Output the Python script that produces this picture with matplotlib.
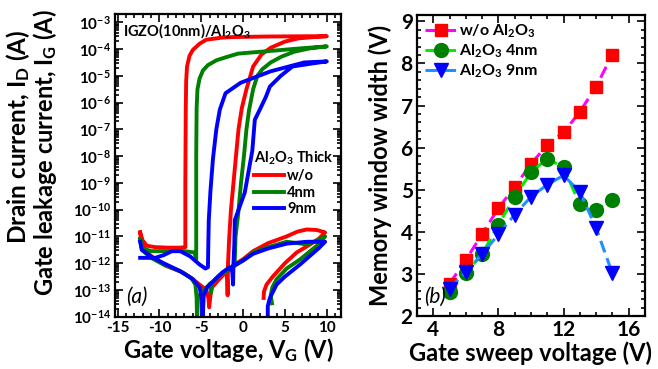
import numpy as np
import matplotlib
matplotlib.use('Agg')
from matplotlib import pyplot as plt
from matplotlib.ticker import LogLocator, MultipleLocator, NullFormatter, FuncFormatter

plt.rcParams['font.family'] = ['Lato', 'DejaVu Sans']
plt.rcParams['font.weight'] = 'bold'
plt.rcParams['axes.labelweight'] = 'bold'
plt.rcParams['mathtext.fontset'] = 'custom'
plt.rcParams['mathtext.rm'] = 'Lato:bold'
plt.rcParams['mathtext.bf'] = 'Lato:bold'
plt.rcParams['mathtext.it'] = 'Lato:bold:italic'
plt.rcParams['mathtext.default'] = 'rm'

# ---- (a) transfer curves, V_G (V) and log10 |I| (A)
red_id_v = [-12.3, -12.1, -11.5, -10.5, -9.2, -7.2, -6.0, -5.0, -4.4, -4.15, -4.05, -3.9, -3.7, -3.0, -2.4,
            -2.0, -1.9, -1.85, -1.8, -1.65, -1.45, -1.15, -0.85, -0.55, -0.15, 0.4, 1.2, 2.2, 3.3, 5.0, 6.6,
            8.5, 10.0,
            8.0, 3.0, -1.2, -2.5, -4.4, -5.2, -6.0, -6.4, -6.7, -6.8, -6.85, -6.9, -6.9, -7.5, -9.0, -10.5,
            -11.5, -12.0, -12.3]
red_id_log = [-10.85, -11.3, -11.6, -11.85, -12.1, -12.35, -12.6, -12.85, -13.0, -13.3, -13.65, -13.2, -12.9,
              -12.65, -12.45, -12.35, -12.6, -13.2, -12.0, -11.0, -10.0, -9.0, -8.0, -7.0, -6.2, -5.5, -4.65,
              -4.2, -3.95, -3.72, -3.6, -3.55, -3.52,
              -3.52, -3.53, -3.55, -3.57, -3.65, -3.8, -4.03, -4.25, -4.65, -5.2, -6.3, -9.0, -11.4, -11.42,
              -11.42, -11.4, -11.35, -11.15, -10.85]
red_ig_v = [-1.8, -1.0, 0.0, 1.2, 3.0, 5.2, 6.5, 7.6, 8.8, 9.8, 9.0, 8.0, 6.4, 5.0, 3.55, 2.8, 2.5, 2.45]
red_ig_log = [-12.3, -12.05, -11.85, -11.55, -11.25, -11.0, -10.82, -10.74, -10.76, -10.85, -11.1, -11.3,
              -11.6, -12.0, -12.5, -12.8, -13.05, -13.3]

green_id_v = [-12.3, -12.1, -11.0, -9.5, -7.5, -6.2, -5.7, -5.55, -5.5, -5.4, -5.0, -4.5, -3.9, -3.85, -3.75,
              -3.0, -2.0, -1.2, -1.0, -0.9, -0.6, -0.25, 0.1, 0.4, 0.7, 1.2, 1.7, 2.3, 3.3, 4.6, 6.1, 8.0, 10.0,
              7.0, 4.0, 1.3, -0.6, -2.0, -3.2, -4.2, -4.8, -5.2, -5.45, -5.55, -5.6, -5.6, -5.8, -7.0, -9.0,
              -11.0, -12.0, -12.3]
green_id_log = [-11.1, -11.5, -11.8, -12.05, -12.3, -12.55, -12.8, -13.3, -14.2, -13.3, -13.1, -12.95, -12.75,
                -13.1, -12.75, -12.5, -12.3, -12.15, -12.0, -11.0, -10.2, -9.0, -8.0, -7.0, -6.3, -5.5, -5.0,
                -4.75, -4.5, -4.28, -4.1, -3.97, -3.9,
                -3.97, -4.05, -4.12, -4.17, -4.3, -4.42, -4.6, -4.8, -5.1, -5.5, -6.2, -8.0, -11.85, -11.6,
                -11.55, -11.55, -11.55, -11.45, -11.1]
green_ig_v = [-1.0, 0.0, 1.2, 3.0, 5.2, 6.5, 7.6, 8.8, 9.8, 9.0, 6.8, 5.2, 4.0, 3.5, 3.3, 3.45]
green_ig_log = [-12.1, -11.9, -11.6, -11.4, -11.2, -11.25, -11.3, -11.15, -11.0, -11.3, -11.86, -12.2, -12.6,
                -12.9, -13.2, -13.5]

blue_id_v = [-12.3, -12.1, -11.0, -9.5, -7.5, -6.0, -5.2, -4.95, -4.85, -4.7, -4.3, -3.5, -2.5, -1.6, -1.3,
             -1.2, -1.15, -1.05, -1.0, 0.2, 1.1, 1.4, 2.0, 2.7, 3.2, 4.5, 5.9, 8.0, 10.0,
             7.3, 3.3, -0.3, -2.1, -2.78, -3.2, -3.6, -3.9, -4.1, -4.15, -4.2, -4.5, -5.2, -6.3, -7.5, -8.5,
             -9.5, -10.5, -12.3]
blue_id_log = [-11.2, -11.5, -11.75, -12.0, -12.3, -12.6, -12.9, -13.3, -14.2, -13.2, -12.9, -12.65, -12.35,
               -12.15, -12.3, -12.8, -12.0, -11.3, -10.4, -9.36, -7.8, -6.64, -6.26, -5.8, -5.4, -5.0, -4.65,
               -4.55, -4.46,
               -4.5, -4.83, -5.26, -5.65, -6.26, -7.0, -8.1, -9.3, -10.4, -11.2, -12.15, -12.2, -12.05, -11.75,
               -11.55, -11.55, -11.7, -11.8, -11.8]
blue_ig_v = [-1.2, 0.0, 1.2, 3.0, 5.2, 7.6, 9.8, 9.0, 6.8, 5.0, 4.0, 3.2, 2.95, 2.95]
blue_ig_log = [-12.1, -11.9, -11.65, -11.45, -11.27, -11.2, -11.2, -11.45, -12.05, -12.5, -12.8, -13.3, -13.6,
               -14.3]

# ---- (b) memory window
sweep_v = [5, 6, 7, 8, 9, 10, 11, 12, 13, 14, 15]
mw_none = [2.77, 3.33, 3.95, 4.56, 5.07, 5.61, 6.07, 6.36, 6.85, 7.45, 8.21]
mw_4nm = [2.58, 3.02, 3.47, 4.17, 4.83, 5.41, 5.74, 5.53, 4.65, 4.52, 4.76]
mw_9nm = [2.65, 3.04, 3.47, 3.94, 4.41, 4.83, 5.12, 5.34, 4.95, 4.09, 3.01]

fig = plt.figure(figsize=(6.58, 3.69), dpi=100)
ax1 = fig.add_axes([0.1748, 0.1417, 0.3435, 0.8203])
ax2 = fig.add_axes([0.6337, 0.1436, 0.3465, 0.8157])

lw = 2.8
curves = [
    (red_id_v, red_id_log, red_ig_v, red_ig_log, '#ff0000', 'w/o'),
    (green_id_v, green_id_log, green_ig_v, green_ig_log, '#008000', '4nm'),
    (blue_id_v, blue_id_log, blue_ig_v, blue_ig_log, '#0000ff', '9nm'),
]
handles = []
for idv, idl, igv, igl, c, lab in curves:
    h, = ax1.plot(idv, 10.0 ** np.array(idl), color=c, lw=lw, solid_joinstyle='round', label=lab)
    ax1.plot(igv, 10.0 ** np.array(igl), color=c, lw=lw, solid_joinstyle='round')
    handles.append(h)

ax1.set_yscale('log')
ax1.set_xlim(-15.3, 11.7)
ax1.set_ylim(1e-14, 10 ** -2.69)
ax1.xaxis.set_major_locator(MultipleLocator(5))
ax1.xaxis.set_minor_locator(MultipleLocator(1))
ax1.xaxis.set_major_formatter(FuncFormatter(lambda v, p: '%d' % round(v)))
ax1.yaxis.set_major_locator(LogLocator(base=10, numticks=30))
ax1.yaxis.set_minor_locator(LogLocator(base=10, subs=np.arange(2, 10), numticks=30))
ax1.yaxis.set_major_formatter(FuncFormatter(lambda v, p: '10$^{%d}$' % round(np.log10(v))))
ax1.yaxis.set_minor_formatter(NullFormatter())
ax1.set_xlabel('Gate voltage, V$_\\mathregular{G}$ (V)', fontsize=17, labelpad=1)
fig.text(0.027, 0.63, 'Drain current, I$_\\mathregular{D}$ (A)', rotation=90, ha='center', va='center', fontsize=17.5)
fig.text(0.069, 0.585, 'Gate leakage current, I$_\\mathregular{G}$ (A)', rotation=90, ha='center', va='center',
         fontsize=17)
ax1.text(0.035, 0.975, 'IGZO(10nm)/Al$_2$O$_3$', transform=ax1.transAxes, fontsize=10.5, va='top')
ax1.text(0.05, 0.045, '(a)', transform=ax1.transAxes, fontsize=15, fontstyle='italic', fontweight='normal')
leg = ax1.legend(handles=handles, title='Al$_2$O$_3$ Thick', loc='upper left', bbox_to_anchor=(0.575, 0.58),
                 frameon=False, fontsize=10.5, title_fontsize=10.5, handlelength=2.1, handletextpad=0.2,
                 labelspacing=0.15, borderpad=0.1, alignment='left')

ax2.plot(sweep_v, mw_none, ls=(0, (4, 2)), color='#ff00ff', lw=2.2, marker='s', ms=9,
         mfc='#ff0000', mec='#ff0000', label='w/o Al$_2$O$_3$')
ax2.plot(sweep_v, mw_4nm, ls=(0, (4, 2)), color='#00ee00', lw=2.2, marker='o', ms=10,
         mfc='#008000', mec='#008000', label='Al$_2$O$_3$ 4nm')
ax2.plot(sweep_v, mw_9nm, ls=(0, (4, 2)), color='#1e90ff', lw=2.2, marker='v', ms=10,
         mfc='#0000ff', mec='#0000ff', label='Al$_2$O$_3$ 9nm')
ax2.set_xlim(3, 17)
ax2.set_ylim(2, 9.15)
ax2.xaxis.set_major_locator(MultipleLocator(4))
ax2.xaxis.set_minor_locator(MultipleLocator(1))
ax2.yaxis.set_major_locator(MultipleLocator(1))
ax2.yaxis.set_minor_locator(MultipleLocator(0.2))
ax2.xaxis.set_major_formatter(FuncFormatter(lambda v, p: '%d' % round(v)))
ax2.yaxis.set_major_formatter(FuncFormatter(lambda v, p: '%d' % round(v)))
ax2.set_xlabel('Gate sweep voltage (V)', fontsize=17, labelpad=1)
ax2.set_ylabel('Memory window width (V)', fontsize=17, labelpad=6)
ax2.text(0.03, 0.045, '(b)', transform=ax2.transAxes, fontsize=15, fontstyle='italic', fontweight='normal')
ax2.legend(loc='upper left', frameon=False, fontsize=11.5, handlelength=2.0, handletextpad=0.1,
           labelspacing=0.15, borderpad=0.3, borderaxespad=0.2)

for ax, fs in ((ax1, 11), (ax2, 15)):
    for s in ax.spines.values():
        s.set_linewidth(1.6)
    ax.tick_params(which='both', direction='in', top=True, right=True, width=1.2)
    ax.tick_params(which='major', length=6, labelsize=fs, pad=3)
    ax.tick_params(which='minor', length=3)
    for t in ax.get_xticklabels() + ax.get_yticklabels():
        t.set_fontweight('bold')

fig.savefig('out.png', dpi=100)
